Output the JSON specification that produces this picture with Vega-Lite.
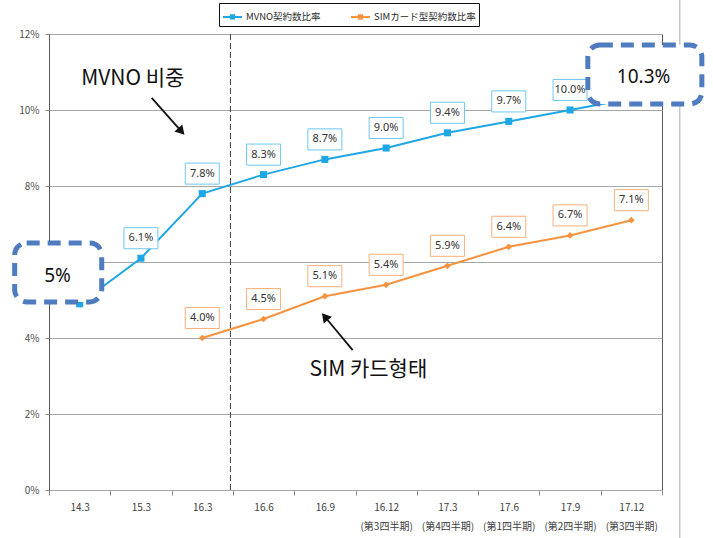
{
  "$schema": "https://vega.github.io/schema/vega-lite/v6.json",
  "width": 613,
  "height": 456,
  "autosize": "none",
  "padding": {"left": 49, "top": 34, "right": 51, "bottom": 48},
  "background": "white",
  "config": {
    "view": {"stroke": "#595959", "strokeWidth": 1},
    "font": "Noto Sans CJK JP",
    "legend": {
      "orient": "none",
      "legendX": 170,
      "legendY": -31,
      "direction": "horizontal",
      "strokeColor": "#111",
      "fillColor": "white",
      "padding": 3,
      "labelFontSize": 9.5,
      "labelColor": "#2b2b2b",
      "labelFont": "Noto Sans CJK JP",
      "labelOffset": 3,
      "columnPadding": 26,
      "symbolType": "M-1,0L1,0M-0.17,-0.17L0.17,-0.17L0.17,0.17L-0.17,0.17Z",
      "symbolSize": 361,
      "symbolStrokeWidth": 2
    }
  },
  "datasets": {
    "series": [
      {"period": "14.3", "series": "MVNO契約数比率", "value": 0.049},
      {"period": "15.3", "series": "MVNO契約数比率", "value": 0.061},
      {"period": "16.3", "series": "MVNO契約数比率", "value": 0.078},
      {"period": "16.6", "series": "MVNO契約数比率", "value": 0.083},
      {"period": "16.9", "series": "MVNO契約数比率", "value": 0.087},
      {"period": "16.12", "series": "MVNO契約数比率", "value": 0.090},
      {"period": "17.3", "series": "MVNO契約数比率", "value": 0.094},
      {"period": "17.6", "series": "MVNO契約数比率", "value": 0.097},
      {"period": "17.9", "series": "MVNO契約数比率", "value": 0.100},
      {"period": "17.12", "series": "MVNO契約数比率", "value": 0.103},
      {"period": "16.3", "series": "SIMカード型契約数比率", "value": 0.040},
      {"period": "16.6", "series": "SIMカード型契約数比率", "value": 0.045},
      {"period": "16.9", "series": "SIMカード型契約数比率", "value": 0.051},
      {"period": "16.12", "series": "SIMカード型契約数比率", "value": 0.054},
      {"period": "17.3", "series": "SIMカード型契約数比率", "value": 0.059},
      {"period": "17.6", "series": "SIMカード型契約数比率", "value": 0.064},
      {"period": "17.9", "series": "SIMカード型契約数比率", "value": 0.067},
      {"period": "17.12", "series": "SIMカード型契約数比率", "value": 0.071}
    ],
    "notes": [
      {"kind": "divider", "x": 2.46},
      {"kind": "edge", "x": 9.79, "y": -0.0126, "y2": 0.129},
      {"kind": "box", "x": -1.06, "x2": 0.36, "y": 0.065, "y2": 0.0495},
      {"kind": "box", "x": 8.29, "x2": 10.15, "y": 0.1171, "y2": 0.1016},
      {"kind": "boxtext", "x": -0.36, "y": 0.0563, "text": "5%"},
      {"kind": "boxtext", "x": 9.2, "y": 0.1086, "text": "10.3%"},
      {"kind": "caption", "x": 0.867, "y": 0.1082, "text": "MVNO 비중"},
      {"kind": "caption", "x": 4.71, "y": 0.0316, "text": "SIM 카드형태"},
      {"kind": "arrow", "id": "mvno", "x": 1.175, "y": 0.1032, "x2": 1.66, "y2": 0.0944},
      {"kind": "arrow", "id": "sim", "x": 4.454, "y": 0.0368, "x2": 4.0, "y2": 0.0456}
    ]
  },
  "layer": [
    {
      "data": {"name": "notes"},
      "transform": [{"filter": "datum.kind == 'divider' || datum.kind == 'edge'"}],
      "layer": [
        {
          "transform": [{"filter": "datum.kind == 'divider'"}],
          "mark": {"type": "rule", "color": "#404040", "strokeWidth": 1, "strokeDash": [6, 3]},
          "encoding": {
            "x": {"field": "x", "type": "quantitative", "scale": {"domain": [-0.5, 9.5], "nice": false, "zero": false}, "axis": null}
          }
        },
        {
          "transform": [{"filter": "datum.kind == 'edge'"}],
          "mark": {"type": "rule", "color": "#c8c8c8", "strokeWidth": 1.5},
          "encoding": {
            "x": {"field": "x", "type": "quantitative", "axis": null},
            "y": {"field": "y", "type": "quantitative", "title": null},
            "y2": {"field": "y2"}
          }
        }
      ]
    },
    {
      "data": {"name": "series"},
      "encoding": {
        "x": {
          "field": "period",
          "type": "ordinal",
          "scale": {
            "type": "band",
            "domain": ["14.3", "15.3", "16.3", "16.6", "16.9", "16.12", "17.3", "17.6", "17.9", "17.12"],
            "paddingInner": 0,
            "paddingOuter": 0
          },
          "axis": {
            "title": null,
            "labelAngle": 0,
            "tickBand": "extent",
            "tickSize": 5,
            "tickColor": "#8c8c8c",
            "domain": false,
            "labelFontSize": 10,
            "labelColor": "#404040",
            "labelPadding": 7,
            "labelLineHeight": 19,
            "labelOverlap": false,
            "labelBaseline": "top",
            "labelExpr": "datum.value == '16.12' ? ['16.12', '(第3四半期)'] : datum.value == '17.3' ? ['17.3', '(第4四半期)'] : datum.value == '17.6' ? ['17.6', '(第1四半期)'] : datum.value == '17.9' ? ['17.9', '(第2四半期)'] : datum.value == '17.12' ? ['17.12', '(第3四半期)'] : datum.label"
          }
        },
        "y": {
          "field": "value",
          "type": "quantitative",
          "title": null,
          "scale": {"domain": [0, 0.12], "nice": false},
          "axis": {
            "values": [0, 0.02, 0.04, 0.06, 0.08, 0.1, 0.12],
            "format": ".0%",
            "tickSize": 4,
            "tickColor": "#8c8c8c",
            "domainColor": "#595959",
            "gridColor": "#a6a6a6",
            "labelFontSize": 10,
            "labelColor": "#505050",
            "labelPadding": 6
          }
        }
      },
      "layer": [
        {
          "mark": {"type": "line", "strokeWidth": 2},
          "encoding": {
            "color": {
              "field": "series",
              "type": "nominal",
              "scale": {"domain": ["MVNO契約数比率", "SIMカード型契約数比率"], "range": ["#1ea7e4", "#f7923f"]},
              "title": null
            }
          }
        },
        {
          "transform": [{"filter": "datum.series == 'MVNO契約数比率'"}],
          "mark": {"type": "point", "shape": "square", "size": 50, "filled": true, "opacity": 1, "color": "#1ea7e4"}
        },
        {
          "transform": [{"filter": "datum.series != 'MVNO契約数比率'"}],
          "mark": {"type": "point", "shape": "diamond", "size": 45, "filled": true, "opacity": 1, "color": "#f7923f"}
        },
        {
          "transform": [{"filter": "datum.series == 'MVNO契約数比率' && datum.period != '14.3' && datum.period != '17.12'"}],
          "mark": {
            "type": "point",
            "shape": "M-1,-0.62L1,-0.62L1,0.62L-1,0.62Z",
            "size": 1156,
            "filled": false,
            "fill": "white",
            "fillOpacity": 1,
            "stroke": "#6dc8ee",
            "strokeWidth": 1,
            "opacity": 1,
            "yOffset": -20
          }
        },
        {
          "transform": [{"filter": "datum.series != 'MVNO契約数比率'"}],
          "mark": {
            "type": "point",
            "shape": "M-1,-0.62L1,-0.62L1,0.62L-1,0.62Z",
            "size": 1156,
            "filled": false,
            "fill": "white",
            "fillOpacity": 1,
            "stroke": "#f7b07a",
            "strokeWidth": 1,
            "opacity": 1,
            "yOffset": -20
          }
        },
        {
          "transform": [{"filter": "!(datum.series == 'MVNO契約数比率' && (datum.period == '14.3' || datum.period == '17.12'))"}],
          "mark": {"type": "text", "fontSize": 11, "font": "Noto Sans", "color": "#333333", "yOffset": -20, "baseline": "middle"},
          "encoding": {
            "text": {"field": "value", "type": "quantitative", "format": ".1%"}
          }
        }
      ]
    },
    {
      "data": {"name": "notes"},
      "layer": [
        {
          "transform": [{"filter": "datum.kind == 'box'"}],
          "mark": {"type": "rect", "fill": "white", "stroke": "#4f7bbf", "strokeWidth": 5, "strokeDash": [13, 8], "cornerRadius": 12},
          "encoding": {
            "x": {"field": "x", "type": "quantitative", "scale": {"domain": [-0.5, 9.5], "nice": false, "zero": false}, "axis": null},
            "x2": {"field": "x2"},
            "y": {"field": "y", "type": "quantitative", "title": null},
            "y2": {"field": "y2"}
          }
        },
        {
          "transform": [{"filter": "datum.kind == 'boxtext'"}],
          "mark": {"type": "text", "fontSize": 19, "font": "Noto Sans", "color": "#111111", "baseline": "middle"},
          "encoding": {
            "x": {"field": "x", "type": "quantitative", "axis": null},
            "y": {"field": "y", "type": "quantitative", "title": null},
            "text": {"field": "text"}
          }
        },
        {
          "transform": [{"filter": "datum.kind == 'caption'"}],
          "mark": {"type": "text", "fontSize": 21, "font": "Noto Sans CJK KR", "color": "#111111", "baseline": "middle"},
          "encoding": {
            "x": {"field": "x", "type": "quantitative", "axis": null},
            "y": {"field": "y", "type": "quantitative", "title": null},
            "text": {"field": "text"}
          }
        },
        {
          "transform": [{"filter": "datum.kind == 'arrow'"}],
          "mark": {"type": "rule", "color": "#111111", "strokeWidth": 1.8},
          "encoding": {
            "x": {"field": "x", "type": "quantitative", "axis": null},
            "x2": {"field": "x2"},
            "y": {"field": "y", "type": "quantitative", "title": null},
            "y2": {"field": "y2"}
          }
        },
        {
          "transform": [{"filter": "datum.id == 'mvno'"}],
          "mark": {"type": "point", "shape": "triangle-up", "filled": true, "color": "#111111", "opacity": 1, "size": 110, "angle": 138},
          "encoding": {
            "x": {"field": "x2", "type": "quantitative", "axis": null},
            "y": {"field": "y2", "type": "quantitative", "title": null}
          }
        },
        {
          "transform": [{"filter": "datum.id == 'sim'"}],
          "mark": {"type": "point", "shape": "triangle-up", "filled": true, "color": "#111111", "opacity": 1, "size": 110, "angle": 320},
          "encoding": {
            "x": {"field": "x2", "type": "quantitative", "axis": null},
            "y": {"field": "y2", "type": "quantitative", "title": null}
          }
        }
      ]
    }
  ],
  "resolve": {"scale": {"x": "independent"}}
}
